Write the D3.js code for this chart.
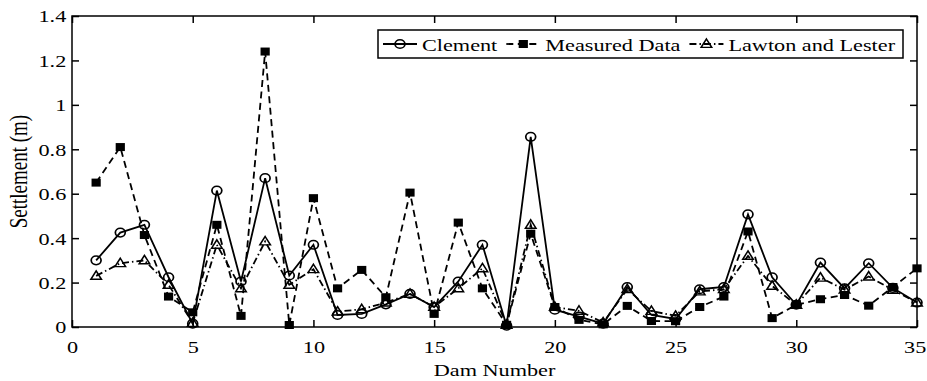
<!DOCTYPE html>
<html>
<head>
<script src="https://d3js.org/d3.v7.min.js"></script>
<style>
  body { margin: 0; background: #fff; }
  svg text { font-family: "Liberation Serif", "Times New Roman", serif; fill: #000; }
</style>
</head>
<body>
<div id="chart"></div>
<script>
// dam numbers 1..35
const damNumbers = [1,2,3,4,5,6,7,8,9,10,11,12,13,14,15,16,17,18,19,20,21,22,23,24,25,26,27,28,29,30,31,32,33,34,35];

const clement = [0.30,0.425,0.46,0.224,0.015,0.614,0.205,0.67,0.232,0.37,0.054,0.059,0.102,0.149,0.09,
  0.205,0.37,0.006,0.856,0.078,0.047,0.015,0.18,0.054,0.036,0.17,0.18,0.507,0.224,0.10,
  0.29,0.174,0.287,0.176,0.11];
const measured = [0.65,0.81,0.414,0.137,0.066,0.46,0.05,1.24,0.009,0.58,0.174,0.257,0.134,0.605,0.059,
  0.47,0.174,0.01,0.42,0.09,0.032,0.012,0.095,0.027,0.026,0.09,0.137,0.43,0.04,0.10,
  0.125,0.144,0.096,0.18,0.264];
const lawton = [0.23,0.287,0.30,0.19,0.018,0.37,0.174,0.385,0.19,0.26,0.069,0.08,0.11,0.149,0.09,
  0.174,0.264,0.01,0.46,0.09,0.073,0.02,0.17,0.072,0.05,0.16,0.17,0.32,0.185,0.10,
  0.222,0.168,0.227,0.167,0.11];

const seriesNames = ["Clement", "Measured Data", "Lawton and Lester"];
const xTicks = [0,5,10,15,20,25,30,35];
const yTicks = [0,0.2,0.4,0.6,0.8,1,1.2,1.4];

const W = 927, H = 381;
const plotL = 72, plotR = 917, plotT = 16, plotB = 327;
const sx = 1.27;      // the source figure is stretched sideways
const fs = 17.5;

const svg = d3.select("#chart").append("svg")
  .attr("width", W).attr("height", H);

const x = d3.scaleLinear().domain([0, 35]).range([plotL, plotR]);
const y = d3.scaleLinear().domain([0, 1.4]).range([plotB, plotT]);

// ticks on all four sides, pointing inward
svg.append("g").attr("transform", `translate(0,${plotB})`)
  .call(d3.axisBottom(x).tickValues(xTicks).tickSizeInner(-7).tickSizeOuter(0).tickFormat(d3.format("~g")))
  .call(g => g.select(".domain").remove())
  .call(g => g.selectAll("line").attr("stroke", "#000").attr("stroke-width", 1.5))
  .call(g => g.selectAll("text").attr("y", 0).attr("dy", 26)
    .attr("x", d => d === 35 ? -1.8 : 0)   // keep the last label inside the window
    .attr("transform", `scale(${sx},1)`).style("font-size", fs + "px").attr("fill", "#000"));

svg.append("g").attr("transform", `translate(0,${plotT})`)
  .call(d3.axisTop(x).tickValues(xTicks).tickSizeInner(-7).tickSizeOuter(0).tickFormat(""))
  .call(g => g.select(".domain").remove())
  .call(g => g.selectAll("line").attr("stroke", "#000").attr("stroke-width", 1.5));

svg.append("g").attr("transform", `translate(${plotL},0)`)
  .call(d3.axisLeft(y).tickValues(yTicks).tickSizeInner(-7).tickSizeOuter(0).tickFormat(d3.format("~g")))
  .call(g => g.select(".domain").remove())
  .call(g => g.selectAll("line").attr("stroke", "#000").attr("stroke-width", 1.5))
  .call(g => g.selectAll("text").attr("x", -4.5).attr("dy", "0.34em")
    .attr("transform", `scale(${sx},1)`).style("font-size", fs + "px").attr("fill", "#000"));

svg.append("g").attr("transform", `translate(${plotR},0)`)
  .call(d3.axisRight(y).tickValues(yTicks).tickSizeInner(-7).tickSizeOuter(0).tickFormat(""))
  .call(g => g.select(".domain").remove())
  .call(g => g.selectAll("line").attr("stroke", "#000").attr("stroke-width", 1.5));

// frame
svg.append("rect").attr("x", plotL).attr("y", plotT)
  .attr("width", plotR - plotL).attr("height", plotB - plotT)
  .attr("fill", "none").attr("stroke", "#000").attr("stroke-width", 1.5);

// axis labels
svg.append("g").attr("transform", `translate(${(plotL + plotR) / 2},376) scale(${sx},1)`)
  .append("text").attr("text-anchor", "middle").style("font-size", fs + "px").text("Dam Number");

svg.append("g").attr("transform", `translate(27,${(plotT + plotB) / 2}) scale(${sx},1) rotate(-90)`)
  .append("text").attr("text-anchor", "middle").style("font-size", "19px").text("Settlement (m)");

// series
const series = [
  { name: seriesNames[0], values: clement, dash: null, marker: "circle" },
  { name: seriesNames[1], values: measured, dash: "7,4.5", marker: "square" },
  { name: seriesNames[2], values: lawton, dash: "7,3,1.5,3", marker: "triangle" }
];

function drawMarker(g, type, cx, cy) {
  const m = g.append("g").attr("transform", `translate(${cx},${cy}) scale(1.15,1)`);
  if (type === "circle") {
    m.append("circle").attr("r", 4.3).attr("fill", "none").attr("stroke", "#000").attr("stroke-width", 1.5);
  } else if (type === "square") {
    m.append("rect").attr("x", -4).attr("y", -4).attr("width", 8).attr("height", 8).attr("fill", "#000");
  } else {
    m.append("path").attr("d", "M0,-5L4.6,3.4L-4.6,3.4Z").attr("fill", "none")
      .attr("stroke", "#000").attr("stroke-width", 1.4);
  }
}

const line = d3.line().x((d, i) => x(damNumbers[i])).y(d => y(d));

series.forEach(s => {
  svg.append("path").datum(s.values)
    .attr("d", line)
    .attr("fill", "none").attr("stroke", "#000").attr("stroke-width", 1.8)
    .attr("stroke-dasharray", s.dash);
  const mg = svg.append("g");
  s.values.forEach((v, i) => drawMarker(mg, s.marker, x(damNumbers[i]), y(v)));
});

// legend
const legend = svg.append("g");
legend.append("rect").attr("x", 378).attr("y", 30)
  .attr("width", 525).attr("height", 28)
  .attr("fill", "#fff").attr("stroke", "#000").attr("stroke-width", 1.5);

let lx = 383;
series.forEach(s => {
  const ly = 44;
  legend.append("line").attr("x1", lx).attr("x2", lx + 34).attr("y1", ly).attr("y2", ly)
    .attr("stroke", "#000").attr("stroke-width", 1.8).attr("stroke-dasharray", s.dash);
  drawMarker(legend, s.marker, lx + 17, ly);
  const t = legend.append("g").attr("transform", `translate(${lx + 39},51) scale(${sx},1)`)
    .append("text").style("font-size", fs + "px").text(s.name);
  lx = lx + 39 + t.node().getComputedTextLength() * sx + 9;
});
</script>
</body>
</html>
